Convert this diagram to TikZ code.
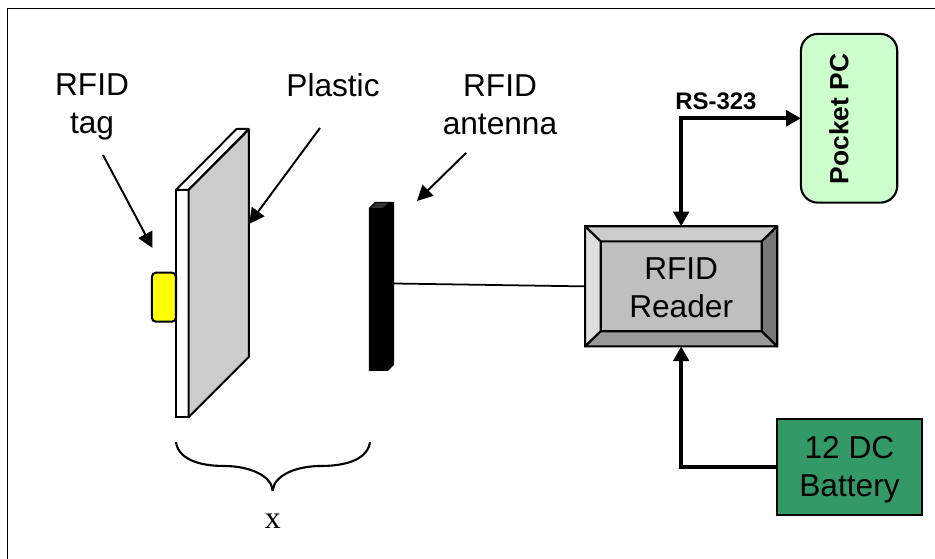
\documentclass[tikz,border=0pt]{standalone}
\usepackage{fontspec}
\setmainfont{Liberation Sans}
\newfontfamily\serifx{Liberation Serif}
\usepackage{xcolor}
\usetikzlibrary{
  positioning,
  arrows.meta,
  calc
}
\definecolor{pocketgreen}{HTML}{CCFFCC}
\definecolor{batterygreen}{HTML}{339966}
\definecolor{tagyellow}{HTML}{FFFF00}
\definecolor{plategray}{HTML}{CCCCCC}
\tikzset{
  >=Triangle,
  label text/.style={align=center,inner sep=0pt,font=\fontsize{9}{10.9}\selectfont},
  thinarrow/.style={-{Triangle[length=4.4pt,width=4.4pt]},line width=0.55pt},
  bigarrow/.style={{Triangle[length=4.2pt,width=4.4pt]}-{Triangle[length=4.2pt,width=4.4pt]},line width=1.05pt},
  powerarrow/.style={-{Triangle[length=4.2pt,width=4.4pt]},line width=1.05pt},
  box/.style={rectangle,draw,line width=0.6pt,inner sep=0pt,outer sep=0pt,align=center},
  bevel/.style={draw,line width=0.6pt,line join=round},
  platepart/.style={draw,line width=0.55pt,line join=round}
}

\begin{document}
\begin{tikzpicture}[x=0.01cm,y=-0.01cm]
    \useasboundingbox (0,0) rectangle (935,559);
    \draw[line width=0.5pt] (935,8.5) -- (7.5,8.5) -- (7.5,559);

    % tag and plastic plate
    \node[box,fill=white,minimum width=0.127cm,minimum height=2.27cm] (platefront) at (182.3,303.5) {};
    \node[box,fill=tagyellow,rounded corners=0.04cm,minimum width=0.24cm,minimum height=0.49cm,left=0pt of platefront,yshift=0.063cm] (tag) {};
    \draw[platepart,fill=white] (platefront.north west) -- ++(60.7,-61) -- ++(12,0) -- (platefront.north east) -- cycle;
    \draw[platepart,fill=plategray] (platefront.north east) -- ++(60.3,-60.5) -- ++(0,227.5) -- (platefront.south east) -- cycle;

    % antenna
    \node[rectangle,inner sep=0pt,outer sep=0pt,minimum width=0.25cm,minimum height=1.69cm] (antenna) at (381.5,286.4) {};
    \fill[black] (antenna.north west) ++(0,6) -- ++(6,-6) -- (antenna.north east) -- ++(0,163) -- ++(-6,6) -- (antenna.south west) -- cycle;
    \fill[black!80] ($(antenna.north west)+(2,6)$) -- ++(5,-5) -- ++(12,0) -- ++(-5,5) -- cycle;

    % reader with bevelled edge
    \node[box,fill=gray!50,minimum width=1.92cm,minimum height=1.2cm,right=1.91cm of antenna] (reader) {};
    \node[box,fill=black!25,minimum width=1.61cm,minimum height=0.9cm,font=\fontsize{9}{10.7}\selectfont] (readerface) at (reader.center) {\rule{0pt}{7pt}RFID\\Reader};
    \draw[bevel,fill=black!20] (reader.north west) -- (reader.north east) -- (readerface.north east) -- (readerface.north west) -- cycle;
    \draw[bevel,fill=black!13] (reader.north west) -- (readerface.north west) -- (readerface.south west) -- (reader.south west) -- cycle;
    \draw[bevel,fill=black!53] (reader.north east) -- (reader.south east) -- (readerface.south east) -- (readerface.north east) -- cycle;
    \draw[bevel,fill=black!40] (reader.south west) -- (readerface.south west) -- (readerface.south east) -- (reader.south east) -- cycle;

    \node[box,fill=pocketgreen,rounded corners=0.17cm,minimum width=0.963cm,minimum height=1.687cm] (pocket) at (849.1,118.3) {};
    \node[rotate=90,inner sep=0pt,font=\fontsize{7.5}{9}\selectfont\bfseries] (pocketlabel) at (839,119) {Pocket PC};
    \node[box,fill=batterygreen,minimum width=1.445cm,minimum height=0.965cm,below=2.16cm of pocket,xshift=0.004cm] (battery) {};
    \node[label text] (batterylabel) at (849.5,469.5) {12 DC\\Battery};

    % labels
    \node[label text] (taglabel) at (92,107) {RFID\\tag};
    \node[label text] (plasticlabel) at (333,85) {Plastic};
    \node[label text] (antennalabel) at (500,104.5) {RFID\\antenna};
    \node[inner sep=0pt,font=\fontsize{6.8}{8}\selectfont\bfseries] (rslabel) at (716,101.7) {RS-323};
    \node[inner sep=0pt,font=\serifx\fontsize{9}{10}\selectfont] (xlabel) at (272.7,521.5) {x};

    \coordinate (tagfrom) at (103,155);
    \coordinate (tagtip) at (152.5,248);
    \coordinate (plasticfrom) at (320,128);
    \coordinate (plastictip) at (249,224);
    \coordinate (antennafrom) at (466,153);
    \coordinate (antennatip) at (417,201);
    \draw[thinarrow] (tagfrom) -- (tagtip);
    \draw[thinarrow] (plasticfrom) -- (plastictip);
    \draw[thinarrow] (antennafrom) -- (antennatip);

    \draw[line width=0.5pt] (antenna.13) -- (reader.west);
    \draw[bigarrow] (reader.north) |- (pocket.west);
    \draw[powerarrow] (battery.west) -| (reader.south);

    % brace
    \coordinate (braceleft) at (176,442);
    \coordinate (braceright) at (370,442);
    \coordinate (bracetip) at (272.7,491);
    \draw[line width=0.6pt] (braceleft) .. controls (178,458) and (197,466) .. (224,466) .. controls (250,466) and (272,476) .. (bracetip);
    \draw[line width=0.6pt] (braceright) .. controls (368,458) and (349,466) .. (321,466) .. controls (295,466) and (273.5,476) .. (bracetip);
\end{tikzpicture}
\end{document}
